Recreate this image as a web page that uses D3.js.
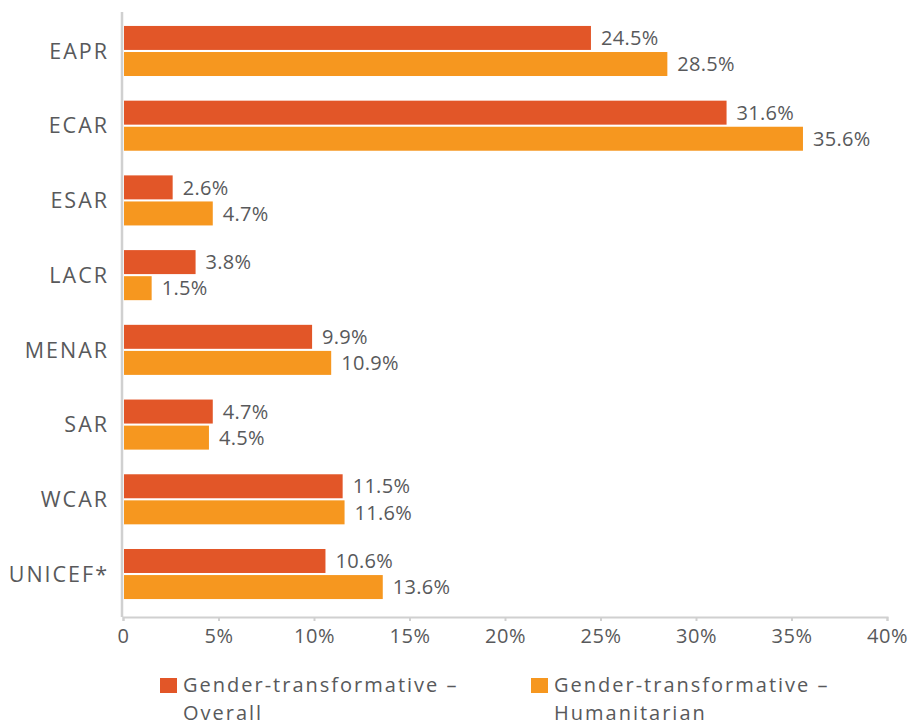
<!DOCTYPE html>
<html><head><meta charset="utf-8">
<script src="https://cdn.jsdelivr.net/npm/d3@7"></script>
<style>body{margin:0;background:#fff}svg{display:block}text{font-family:"Open Sans",Roboto,sans-serif;fill:#58595b}</style>
</head><body>
<svg id="c" width="917" height="724"></svg>
<script>
const categories = ["EAPR","ECAR","ESAR","LACR","MENAR","SAR","WCAR","UNICEF*"];
const overall = [24.5,31.6,2.6,3.8,9.9,4.7,11.5,10.6];
const humanitarian = [28.5,35.6,4.7,1.5,10.9,4.5,11.6,13.6];
const seriesNames = ["Gender-transformative – Overall","Gender-transformative – Humanitarian"];
const xTicks = [0,5,10,15,20,25,30,35,40];
const colors = ["#e25628","#f6971f"];

const svg = d3.select("#c");
const x = d3.scaleLinear().domain([0,40]).range([123,887]);
const y = d3.scaleBand().domain(categories).range([11,614]).paddingInner(0.33).paddingOuter(0.2);
const sub = d3.scaleBand().domain([0,1]).range([0,y.bandwidth()]).paddingInner(0.08);
const axisY = 617;

// x axis
const xa = svg.append("g").attr("transform",`translate(0,${axisY})`)
  .call(d3.axisBottom(x).tickValues(xTicks).tickSize(4).tickFormat(d=>d===0?"0":d+"%"));
xa.select(".domain").attr("stroke","#d0d0d0").attr("stroke-width",2);
xa.selectAll(".tick line").attr("stroke","#d0d0d0").attr("stroke-width",2);
xa.selectAll(".tick text").attr("font-size","20px").attr("dy","0.95em").attr("fill","#58595b")
  .attr("font-family","'Open Sans'").attr("letter-spacing","0.6px");

// y axis line
svg.append("line").attr("x1",x(0)-1).attr("x2",x(0)-1).attr("y1",12).attr("y2",axisY)
  .attr("stroke","#d0d0d0").attr("stroke-width",2.5);

const data = categories.map((c,i)=>({c, vals:[overall[i],humanitarian[i]]}));
const g = svg.append("g");
data.forEach(d=>{
  d.vals.forEach((v,k)=>{
    const yy = y(d.c)+sub(k);
    g.append("rect").attr("x",x(0)+1).attr("y",yy).attr("width",x(v)-x(0)-1).attr("height",sub.bandwidth()).attr("fill",colors[k]);
    g.append("text").attr("x",x(v)+10).attr("y",yy+sub.bandwidth()/2).attr("dy","0.36em")
      .attr("font-size","20px").attr("letter-spacing","0.3px").text(v.toFixed(1)+"%");
  });
  g.append("text").attr("x",109).attr("y",y(d.c)+y.bandwidth()/2).attr("dy","0.36em")
    .attr("text-anchor","end").attr("font-size","21.5px").attr("letter-spacing","2px").text(d.c);
});

// legend
const legX = [160,531];
seriesNames.forEach((n,k)=>{
  const lg = svg.append("g");
  lg.append("rect").attr("x",legX[k]).attr("y",678).attr("width",17).attr("height",15).attr("fill",colors[k]);
  const parts = n.split(" – ");
  lg.append("text").attr("x",legX[k]+23).attr("y",692).attr("font-size","20px").attr("letter-spacing","2px").text(parts[0]+" –");
  lg.append("text").attr("x",legX[k]+23).attr("y",719.5).attr("font-size","20px").attr("letter-spacing","2px").text(parts[1]);
});
</script>
</body></html>
